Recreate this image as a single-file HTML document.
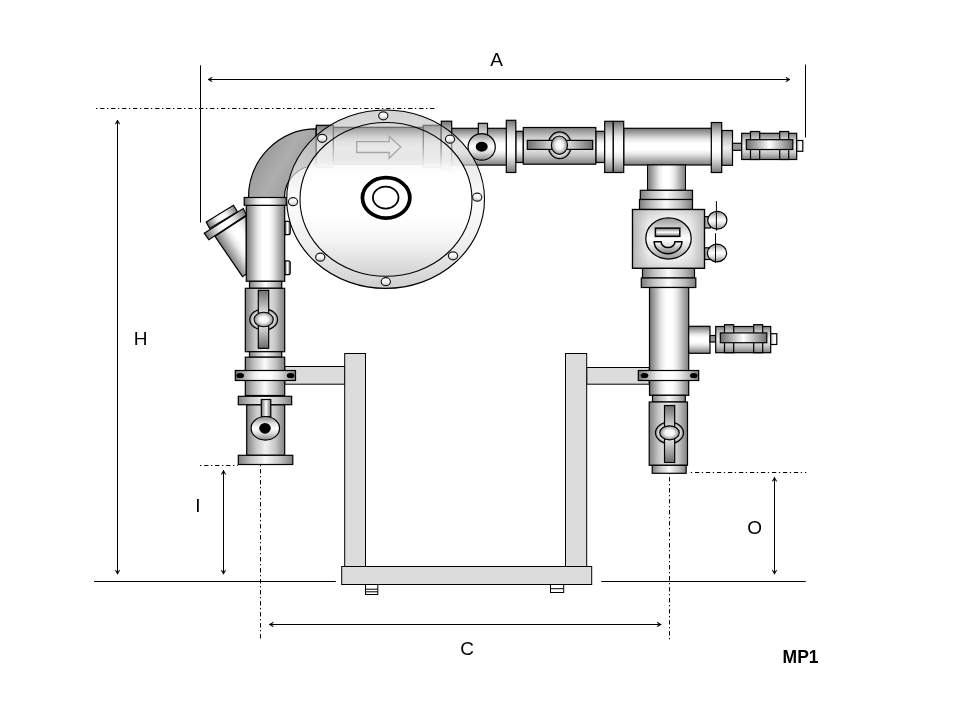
<!DOCTYPE html>
<html><head><meta charset="utf-8"><title>MP1</title>
<style>
html,body{margin:0;padding:0;background:#fff;}
svg{display:block;will-change:transform;}
text{font-family:"Liberation Sans",sans-serif;fill:#000;}
</style></head>
<body>
<svg width="960" height="720" viewBox="0 0 960 720">
<rect x="0" y="0" width="960" height="720" fill="#ffffff"/>

<defs>
<linearGradient id="pv" x1="0" y1="0" x2="0" y2="1"><stop offset="0" stop-color="#727272"/><stop offset="0.12" stop-color="#a2a2a2"/><stop offset="0.3" stop-color="#e8e8e8"/><stop offset="0.42" stop-color="#ffffff"/><stop offset="0.58" stop-color="#ffffff"/><stop offset="0.7" stop-color="#e8e8e8"/><stop offset="0.88" stop-color="#a8a8a8"/><stop offset="1" stop-color="#7c7c7c"/></linearGradient>
<linearGradient id="ph" x1="0" y1="0" x2="1" y2="0"><stop offset="0" stop-color="#727272"/><stop offset="0.12" stop-color="#a2a2a2"/><stop offset="0.3" stop-color="#e8e8e8"/><stop offset="0.42" stop-color="#ffffff"/><stop offset="0.58" stop-color="#ffffff"/><stop offset="0.7" stop-color="#e8e8e8"/><stop offset="0.88" stop-color="#a8a8a8"/><stop offset="1" stop-color="#7c7c7c"/></linearGradient>
<linearGradient id="bv" x1="0" y1="0" x2="0" y2="1"><stop offset="0" stop-color="#727272"/><stop offset="0.12" stop-color="#a2a2a2"/><stop offset="0.3" stop-color="#e8e8e8"/><stop offset="0.42" stop-color="#ffffff"/><stop offset="0.58" stop-color="#ffffff"/><stop offset="0.7" stop-color="#e8e8e8"/><stop offset="0.88" stop-color="#a8a8a8"/><stop offset="1" stop-color="#7c7c7c"/></linearGradient>
<linearGradient id="bh" x1="0" y1="0" x2="1" y2="0"><stop offset="0" stop-color="#727272"/><stop offset="0.12" stop-color="#a2a2a2"/><stop offset="0.3" stop-color="#e8e8e8"/><stop offset="0.42" stop-color="#ffffff"/><stop offset="0.58" stop-color="#ffffff"/><stop offset="0.7" stop-color="#e8e8e8"/><stop offset="0.88" stop-color="#a8a8a8"/><stop offset="1" stop-color="#7c7c7c"/></linearGradient>
<linearGradient id="hh" x1="0" y1="0" x2="1" y2="0"><stop offset="0" stop-color="#6c6c6c"/><stop offset="0.5" stop-color="#ffffff"/><stop offset="1" stop-color="#6c6c6c"/></linearGradient>
<linearGradient id="hv" x1="0" y1="0" x2="0" y2="1"><stop offset="0" stop-color="#6c6c6c"/><stop offset="0.5" stop-color="#ffffff"/><stop offset="1" stop-color="#6c6c6c"/></linearGradient>
<linearGradient id="vbv" x1="0" y1="0" x2="0" y2="1"><stop offset="0" stop-color="#808080"/><stop offset="0.25" stop-color="#c8c8c8"/><stop offset="0.5" stop-color="#f0f0f0"/><stop offset="0.75" stop-color="#c8c8c8"/><stop offset="1" stop-color="#808080"/></linearGradient>
<linearGradient id="vbh" x1="0" y1="0" x2="1" y2="0"><stop offset="0" stop-color="#808080"/><stop offset="0.25" stop-color="#c8c8c8"/><stop offset="0.5" stop-color="#f0f0f0"/><stop offset="0.75" stop-color="#c8c8c8"/><stop offset="1" stop-color="#808080"/></linearGradient>
<linearGradient id="boxv" x1="0" y1="0" x2="0" y2="1"><stop offset="0" stop-color="#a8a8a8" stop-opacity="0.45"/><stop offset="0.3" stop-color="#d0d0d0" stop-opacity="0"/><stop offset="0.7" stop-color="#d0d0d0" stop-opacity="0"/><stop offset="1" stop-color="#a8a8a8" stop-opacity="0.45"/></linearGradient>
<linearGradient id="ys1" gradientUnits="userSpaceOnUse" x1="215" y1="236.3" x2="252" y2="213.5"><stop offset="0" stop-color="#727272"/><stop offset="0.12" stop-color="#a2a2a2"/><stop offset="0.3" stop-color="#e8e8e8"/><stop offset="0.42" stop-color="#ffffff"/><stop offset="0.58" stop-color="#ffffff"/><stop offset="0.7" stop-color="#e8e8e8"/><stop offset="0.88" stop-color="#a8a8a8"/><stop offset="1" stop-color="#7c7c7c"/></linearGradient>
<linearGradient id="ys2" gradientUnits="userSpaceOnUse" x1="206" y1="236" x2="245" y2="212"><stop offset="0" stop-color="#727272"/><stop offset="0.12" stop-color="#a2a2a2"/><stop offset="0.3" stop-color="#e8e8e8"/><stop offset="0.42" stop-color="#ffffff"/><stop offset="0.58" stop-color="#ffffff"/><stop offset="0.7" stop-color="#e8e8e8"/><stop offset="0.88" stop-color="#a8a8a8"/><stop offset="1" stop-color="#7c7c7c"/></linearGradient>
<linearGradient id="ys3" gradientUnits="userSpaceOnUse" x1="208" y1="225" x2="235.5" y2="208.5"><stop offset="0" stop-color="#727272"/><stop offset="0.12" stop-color="#a2a2a2"/><stop offset="0.3" stop-color="#e8e8e8"/><stop offset="0.42" stop-color="#ffffff"/><stop offset="0.58" stop-color="#ffffff"/><stop offset="0.7" stop-color="#e8e8e8"/><stop offset="0.88" stop-color="#a8a8a8"/><stop offset="1" stop-color="#7c7c7c"/></linearGradient>
<linearGradient id="knob" x1="0" y1="0" x2="0" y2="1">
 <stop offset="0" stop-color="#8a8a8a"/><stop offset="0.3" stop-color="#e0e0e0"/><stop offset="0.5" stop-color="#ffffff"/><stop offset="0.7" stop-color="#e0e0e0"/><stop offset="1" stop-color="#8a8a8a"/>
</linearGradient>
<linearGradient id="stem" x1="0" y1="0" x2="0" y2="1">
 <stop offset="0" stop-color="#989898"/><stop offset="1" stop-color="#ececec"/>
</linearGradient>
<linearGradient id="stub" x1="0" y1="0" x2="1" y2="0"><stop offset="0" stop-color="#c8c8c8"/><stop offset="0.6" stop-color="#ffffff"/><stop offset="1" stop-color="#f0f0f0"/></linearGradient>
<linearGradient id="colh" x1="0" y1="0" x2="1" y2="0"><stop offset="0" stop-color="#7e7e7e"/><stop offset="0.22" stop-color="#c0c0c0"/><stop offset="0.5" stop-color="#fafafa"/><stop offset="0.78" stop-color="#c0c0c0"/><stop offset="1" stop-color="#7e7e7e"/></linearGradient>
<linearGradient id="boxg" x1="0" y1="0" x2="1" y2="0">
 <stop offset="0" stop-color="#b4b4b4"/><stop offset="0.22" stop-color="#ececec"/><stop offset="0.45" stop-color="#ffffff"/><stop offset="0.6" stop-color="#ffffff"/><stop offset="0.8" stop-color="#ececec"/><stop offset="1" stop-color="#b8b8b8"/>
</linearGradient>
<linearGradient id="elb" x1="0" y1="0.2" x2="1" y2="0.8">
 <stop offset="0" stop-color="#8c8c8c"/><stop offset="0.5" stop-color="#aeaeae"/><stop offset="1" stop-color="#909090"/>
</linearGradient>
<radialGradient id="ball" cx="0.5" cy="0.5" r="0.5">
 <stop offset="0" stop-color="#ffffff"/><stop offset="0.45" stop-color="#f4f4f4"/><stop offset="1" stop-color="#8c8c8c"/>
</radialGradient>
<radialGradient id="ring" cx="0.5" cy="0.5" r="0.5">
 <stop offset="0" stop-color="#ffffff"/><stop offset="0.7" stop-color="#ffffff"/><stop offset="1" stop-color="#888888"/>
</radialGradient>
<linearGradient id="bolt" x1="0" y1="0" x2="0" y2="1">
 <stop offset="0" stop-color="#ffffff"/><stop offset="0.55" stop-color="#f6f6f6"/><stop offset="1" stop-color="#b8b8b8"/>
</linearGradient>
<linearGradient id="rim" x1="0" y1="0" x2="0" y2="1">
 <stop offset="0" stop-color="#b0b0b0" stop-opacity="0.55"/><stop offset="0.3" stop-color="#e0e0e0" stop-opacity="0.65"/><stop offset="0.5" stop-color="#fcfcfc" stop-opacity="0.75"/><stop offset="0.75" stop-color="#ececec" stop-opacity="0.85"/><stop offset="1" stop-color="#cccccc" stop-opacity="0.95"/>
</linearGradient>
<linearGradient id="disc" x1="0" y1="0" x2="0" y2="1">
 <stop offset="0" stop-color="#b0b0b0" stop-opacity="0.5"/><stop offset="0.15" stop-color="#dcdcdc" stop-opacity="0.7"/><stop offset="0.28" stop-color="#fafafa" stop-opacity="0.95"/><stop offset="0.34" stop-color="#ffffff" stop-opacity="1"/><stop offset="0.62" stop-color="#ffffff" stop-opacity="1"/><stop offset="0.75" stop-color="#f6f6f6" stop-opacity="1"/><stop offset="0.88" stop-color="#e4e4e4" stop-opacity="1"/><stop offset="1" stop-color="#d2d2d2" stop-opacity="1"/>
</linearGradient>
<linearGradient id="smile" x1="0" y1="0" x2="0" y2="1">
 <stop offset="0" stop-color="#ffffff"/><stop offset="1" stop-color="#808080"/>
</linearGradient>
<linearGradient id="circ" x1="0" y1="0" x2="0" y2="1">
 <stop offset="0" stop-color="#989898"/><stop offset="0.3" stop-color="#e0e0e0"/><stop offset="0.5" stop-color="#ffffff"/><stop offset="0.7" stop-color="#e0e0e0"/><stop offset="1" stop-color="#989898"/>
</linearGradient>
</defs>

<line x1="96.00" y1="108.50" x2="437.00" y2="108.50" stroke="#000" stroke-width="1" stroke-dasharray="1.3 2.85 4.3 2.55"/>
<line x1="200.50" y1="65.30" x2="200.50" y2="222.50" stroke="#000" stroke-width="1"/>
<line x1="805.50" y1="64.50" x2="805.50" y2="137.50" stroke="#000" stroke-width="1"/>
<line x1="208.00" y1="79.50" x2="790.00" y2="79.50" stroke="#000" stroke-width="1"/>
<path d="M208.00,79.50 L212.20,77.10 L210.31,79.50 L212.20,81.90 Z" fill="#000" stroke="#000" stroke-width="0.5" stroke-linejoin="miter"/>
<path d="M790.00,79.50 L785.80,81.90 L787.69,79.50 L785.80,77.10 Z" fill="#000" stroke="#000" stroke-width="0.5" stroke-linejoin="miter"/>
<line x1="117.50" y1="120.00" x2="117.50" y2="574.20" stroke="#000" stroke-width="1"/>
<path d="M117.50,120.00 L119.90,124.20 L117.50,122.31 L115.10,124.20 Z" fill="#000" stroke="#000" stroke-width="0.5" stroke-linejoin="miter"/>
<path d="M117.50,574.20 L115.10,570.00 L117.50,571.89 L119.90,570.00 Z" fill="#000" stroke="#000" stroke-width="0.5" stroke-linejoin="miter"/>
<line x1="200.00" y1="465.50" x2="238.00" y2="465.50" stroke="#000" stroke-width="1" stroke-dasharray="1.3 2.85 4.3 2.55"/>
<line x1="223.50" y1="470.30" x2="223.50" y2="574.20" stroke="#000" stroke-width="1"/>
<path d="M223.50,470.30 L225.90,474.50 L223.50,472.61 L221.10,474.50 Z" fill="#000" stroke="#000" stroke-width="0.5" stroke-linejoin="miter"/>
<path d="M223.50,574.20 L221.10,570.00 L223.50,571.89 L225.90,570.00 Z" fill="#000" stroke="#000" stroke-width="0.5" stroke-linejoin="miter"/>
<line x1="690.80" y1="472.50" x2="806.30" y2="472.50" stroke="#000" stroke-width="1" stroke-dasharray="1.3 2.85 4.3 2.55"/>
<line x1="774.50" y1="477.20" x2="774.50" y2="574.20" stroke="#000" stroke-width="1"/>
<path d="M774.50,477.20 L776.90,481.40 L774.50,479.51 L772.10,481.40 Z" fill="#000" stroke="#000" stroke-width="0.5" stroke-linejoin="miter"/>
<path d="M774.50,574.20 L772.10,570.00 L774.50,571.89 L776.90,570.00 Z" fill="#000" stroke="#000" stroke-width="0.5" stroke-linejoin="miter"/>
<line x1="94.00" y1="581.50" x2="335.80" y2="581.50" stroke="#000" stroke-width="1"/>
<line x1="601.20" y1="581.50" x2="805.80" y2="581.50" stroke="#000" stroke-width="1"/>
<line x1="260.50" y1="465.00" x2="260.50" y2="640.00" stroke="#000" stroke-width="1" stroke-dasharray="1.3 2.85 4.3 2.55"/>
<line x1="669.50" y1="473.00" x2="669.50" y2="640.00" stroke="#000" stroke-width="1" stroke-dasharray="1.3 2.85 4.3 2.55"/>
<line x1="269.20" y1="624.50" x2="661.20" y2="624.50" stroke="#000" stroke-width="1"/>
<path d="M269.20,624.50 L273.40,622.10 L271.51,624.50 L273.40,626.90 Z" fill="#000" stroke="#000" stroke-width="0.5" stroke-linejoin="miter"/>
<path d="M661.20,624.50 L657.00,626.90 L658.89,624.50 L657.00,622.10 Z" fill="#000" stroke="#000" stroke-width="0.5" stroke-linejoin="miter"/>
<text x="496.50" y="65.80" font-size="19" font-weight="normal" text-anchor="middle">A</text>
<text x="140.70" y="345.00" font-size="19" font-weight="normal" text-anchor="middle">H</text>
<text x="198.00" y="512.00" font-size="19" font-weight="normal" text-anchor="middle">I</text>
<text x="754.70" y="533.50" font-size="19" font-weight="normal" text-anchor="middle">O</text>
<text x="467.00" y="654.80" font-size="19" font-weight="normal" text-anchor="middle">C</text>
<text x="782.6" y="662.8" font-size="18.7" font-weight="bold" textLength="36" lengthAdjust="spacingAndGlyphs">MP1</text>
<rect x="284.70" y="366.50" width="60.30" height="17.70" fill="#dcdcdc" stroke="#000" stroke-width="1" />
<rect x="586.70" y="367.50" width="62.50" height="16.70" fill="#dcdcdc" stroke="#000" stroke-width="1" />
<rect x="344.70" y="353.50" width="20.80" height="213.00" fill="#dcdcdc" stroke="#000" stroke-width="1" />
<rect x="565.50" y="353.50" width="21.20" height="213.00" fill="#dcdcdc" stroke="#000" stroke-width="1" />
<rect x="341.70" y="566.50" width="250.00" height="18.00" fill="#dcdcdc" stroke="#000" stroke-width="1" />
<rect x="365.50" y="584.50" width="12.30" height="10.00" fill="#fff" stroke="#000" stroke-width="1" />
<line x1="365.50" y1="589.20" x2="377.80" y2="589.20" stroke="#000" stroke-width="1"/>
<line x1="365.50" y1="591.80" x2="377.80" y2="591.80" stroke="#000" stroke-width="1"/>
<rect x="550.50" y="584.50" width="13.20" height="8.00" fill="#fff" stroke="#000" stroke-width="1" />
<line x1="550.50" y1="588.70" x2="563.70" y2="588.70" stroke="#000" stroke-width="1"/>
<path d="M248.5,197.5 A67.8,68.7 0 0 1 316.3,128.8 L316.3,165.5 A32,32 0 0 0 284.4,197.5 Z" fill="url(#elb)" stroke="#000" stroke-width="1.2" />
<path d="M215,236.3 L246.3,216 L246.3,274 L242.5,276.7 Z" fill="url(#ys1)" stroke="#000" stroke-width="1.2" />
<path d="M206.3,222.1 L233.5,205.3 L237.5,211.8 L209.6,228.5 Z" fill="url(#ys3)" stroke="#000" stroke-width="1.2" />
<path d="M204.2,233.2 L243.3,208.5 L246.5,215 L208.8,239.8 Z" fill="url(#ys2)" stroke="#000" stroke-width="1.2" />
<path d="M284.7,221.3 L288,221.3 Q290.2,221.3 290.2,223.3 L290.2,232.7 Q290.2,234.7 288,234.7 L284.7,234.7 Z" fill="url(#hh)" stroke="#000" stroke-width="1.2" />
<path d="M284.7,260.8 L288,260.8 Q290.2,260.8 290.2,262.8 L290.2,272.7 Q290.2,274.7 288,274.7 L284.7,274.7 Z" fill="url(#hh)" stroke="#000" stroke-width="1.2" />
<rect x="246.30" y="205.30" width="38.40" height="76.00" fill="url(#ph)" stroke="#000" stroke-width="1.2" />
<rect x="244.20" y="197.50" width="42.10" height="7.80" fill="url(#bh)" stroke="#000" stroke-width="1.2" />
<rect x="249.50" y="281.30" width="32.20" height="7.00" fill="url(#colh)" stroke="#000" stroke-width="1.2" />
<rect x="245.30" y="288.30" width="39.40" height="63.40" fill="url(#vbh)" stroke="#000" stroke-width="1.2" />
<ellipse cx="263.70" cy="319.50" rx="13.90" ry="10.60" fill="url(#ring)" stroke="#000" stroke-width="1.2" />
<rect x="258.30" y="290.30" width="10.40" height="58.00" fill="url(#hv)" stroke="#000" stroke-width="1.2" />
<ellipse cx="263.70" cy="319.50" rx="9.60" ry="7.25" fill="url(#ball)" stroke="#000" stroke-width="1.2" />
<rect x="249.50" y="351.70" width="32.20" height="5.50" fill="url(#colh)" stroke="#000" stroke-width="1.2" />
<rect x="245.30" y="357.20" width="39.40" height="38.30" fill="url(#colh)" stroke="#000" stroke-width="1.2" />
<rect x="235.30" y="370.50" width="60.20" height="10.00" fill="url(#bh)" stroke="#000" stroke-width="1.2" />
<ellipse cx="240.20" cy="375.50" rx="3.80" ry="2.60" fill="#000" stroke="#000" stroke-width="0" />
<ellipse cx="290.60" cy="375.50" rx="3.80" ry="2.60" fill="#000" stroke="#000" stroke-width="0" />
<rect x="246.70" y="404.70" width="38.00" height="50.60" fill="url(#vbh)" stroke="#000" stroke-width="1.2" />
<rect x="238.30" y="396.30" width="53.40" height="8.40" fill="url(#colh)" stroke="#000" stroke-width="1.2" />
<rect x="261.30" y="399.50" width="9.50" height="17.20" fill="url(#hh)" stroke="#000" stroke-width="1.2" />
<ellipse cx="265.30" cy="428.30" rx="14.25" ry="11.80" fill="url(#knob)" stroke="#000" stroke-width="1.2" />
<ellipse cx="265.00" cy="428.30" rx="5.80" ry="5.40" fill="#000" stroke="#000" stroke-width="0" />
<rect x="238.30" y="455.30" width="54.50" height="9.20" fill="url(#colh)" stroke="#000" stroke-width="1.2" />
<rect x="441.00" y="128.30" width="65.70" height="36.80" fill="url(#pv)" stroke="#000" stroke-width="1.2" />
<rect x="316.30" y="127.30" width="124.70" height="37.10" fill="url(#pv)" stroke="#000" stroke-width="1.2" />
<rect x="316.30" y="125.30" width="17.00" height="42.20" fill="url(#bv)" stroke="#000" stroke-width="1.2" />
<rect x="423.30" y="125.30" width="17.70" height="42.20" fill="url(#bv)" stroke="#000" stroke-width="1.2" />
<rect x="441.30" y="121.20" width="10.40" height="48.80" fill="url(#bv)" stroke="#000" stroke-width="1.2" />
<rect x="478.30" y="123.30" width="9.20" height="12.70" fill="url(#stem)" stroke="#000" stroke-width="1.2" />
<ellipse cx="481.70" cy="146.90" rx="13.60" ry="13.30" fill="url(#knob)" stroke="#000" stroke-width="1.2" />
<ellipse cx="481.70" cy="146.70" rx="6.00" ry="5.00" fill="#000" stroke="#000" stroke-width="0" />
<rect x="515.80" y="131.30" width="7.50" height="31.20" fill="url(#bv)" stroke="#000" stroke-width="1.2" />
<rect x="506.30" y="120.30" width="9.50" height="52.20" fill="url(#bv)" stroke="#000" stroke-width="1.2" />
<rect x="595.80" y="131.30" width="8.90" height="31.20" fill="url(#bv)" stroke="#000" stroke-width="1.2" />
<rect x="523.30" y="127.50" width="72.50" height="36.70" fill="url(#vbv)" stroke="#000" stroke-width="1.2" />
<ellipse cx="559.70" cy="145.30" rx="11.60" ry="13.40" fill="url(#ring)" stroke="#000" stroke-width="1.2" />
<rect x="527.30" y="140.40" width="65.40" height="9.00" fill="url(#hh)" stroke="#000" stroke-width="1.2" />
<ellipse cx="559.40" cy="145.20" rx="8.10" ry="9.20" fill="url(#ball)" stroke="#000" stroke-width="1.2" />
<rect x="623.70" y="128.30" width="88.00" height="36.70" fill="url(#pv)" stroke="#000" stroke-width="1.2" />
<rect x="604.70" y="121.30" width="8.60" height="51.20" fill="url(#bv)" stroke="#000" stroke-width="1.2" />
<rect x="613.30" y="121.30" width="10.40" height="51.20" fill="url(#bv)" stroke="#000" stroke-width="1.2" />
<rect x="721.70" y="130.50" width="10.80" height="34.80" fill="url(#vbv)" stroke="#000" stroke-width="1.2" />
<rect x="711.30" y="122.50" width="10.40" height="50.00" fill="url(#bv)" stroke="#000" stroke-width="1.2" />
<rect x="732.50" y="143.30" width="9.20" height="7.00" fill="#989898" stroke="#000" stroke-width="1.2" />
<rect x="741.70" y="133.30" width="55.00" height="26.20" fill="url(#vbv)" stroke="#000" stroke-width="1.2" />
<rect x="750.50" y="131.50" width="9.20" height="28.00" fill="url(#vbv)" stroke="#000" stroke-width="1.2" />
<rect x="779.70" y="131.50" width="9.00" height="28.00" fill="url(#vbv)" stroke="#000" stroke-width="1.2" />
<rect x="746.30" y="139.70" width="46.50" height="9.80" fill="url(#hh)" stroke="#000" stroke-width="1.2" />
<rect x="796.70" y="140.50" width="6.10" height="10.80" fill="url(#stub)" stroke="#000" stroke-width="1.2" />
<path d="M286.7,199.2 A98.9,89.2 0 1 0 484.5,199.2 A98.9,89.2 0 1 0 286.7,199.2 Z M300,199.4 A86,76.9 0 1 0 472,199.4 A86,76.9 0 1 0 300,199.4 Z" fill="url(#rim)" stroke="none" stroke-width="0" fill-rule="evenodd"/>
<ellipse cx="385.60" cy="199.20" rx="98.90" ry="89.20" fill="none" stroke="#000" stroke-width="1.1" />
<ellipse cx="386.00" cy="199.40" rx="86.00" ry="76.90" fill="url(#disc)" stroke="#000" stroke-width="1.1" />
<ellipse cx="383.30" cy="115.80" rx="4.60" ry="4.00" fill="url(#bolt)" stroke="#1a1a1a" stroke-width="1.2" />
<ellipse cx="450.00" cy="139.20" rx="4.60" ry="4.00" fill="url(#bolt)" stroke="#1a1a1a" stroke-width="1.2" />
<ellipse cx="477.20" cy="197.20" rx="4.60" ry="4.00" fill="url(#bolt)" stroke="#1a1a1a" stroke-width="1.2" />
<ellipse cx="453.00" cy="255.80" rx="4.60" ry="4.00" fill="url(#bolt)" stroke="#1a1a1a" stroke-width="1.2" />
<ellipse cx="385.80" cy="281.70" rx="4.60" ry="4.00" fill="url(#bolt)" stroke="#1a1a1a" stroke-width="1.2" />
<ellipse cx="320.30" cy="257.20" rx="4.60" ry="4.00" fill="url(#bolt)" stroke="#1a1a1a" stroke-width="1.2" />
<ellipse cx="293.00" cy="201.70" rx="4.60" ry="4.00" fill="url(#bolt)" stroke="#1a1a1a" stroke-width="1.2" />
<ellipse cx="322.20" cy="138.30" rx="4.60" ry="4.00" fill="url(#bolt)" stroke="#1a1a1a" stroke-width="1.2" />
<path d="M356.7,141.7 L389.2,141.7 L389.2,136.3 L400.8,147 L389.2,158.3 L389.2,152.5 L356.7,152.5 Z" fill="none" stroke="#a6a6a6" stroke-width="1.3" />
<ellipse cx="386.15" cy="197.85" rx="23.70" ry="20.20" fill="none" stroke="#000" stroke-width="3.75" />
<ellipse cx="385.70" cy="197.60" rx="12.80" ry="11.00" fill="none" stroke="#000" stroke-width="1.8" />
<rect x="647.50" y="165.00" width="38.00" height="25.30" fill="url(#ph)" stroke="#000" stroke-width="1" />
<rect x="640.30" y="190.30" width="52.20" height="9.20" fill="url(#colh)" stroke="#000" stroke-width="1.2" />
<rect x="639.50" y="199.50" width="53.00" height="10.00" fill="url(#colh)" stroke="#000" stroke-width="1.2" />
<rect x="642.50" y="268.30" width="52.00" height="9.70" fill="url(#colh)" stroke="#000" stroke-width="1.2" />
<rect x="641.30" y="278.00" width="54.50" height="9.50" fill="url(#colh)" stroke="#000" stroke-width="1.2" />
<rect x="704.50" y="216.60" width="6.00" height="11.40" fill="#b0b0b0" stroke="#000" stroke-width="1.2" />
<ellipse cx="717.30" cy="220.30" rx="9.60" ry="8.90" fill="url(#knob)" stroke="#000" stroke-width="1.2" />
<line x1="716.40" y1="201.10" x2="716.40" y2="230.70" stroke="#000" stroke-width="1"/>
<rect x="704.50" y="247.80" width="6.00" height="11.70" fill="#b0b0b0" stroke="#000" stroke-width="1.2" />
<ellipse cx="717.00" cy="253.00" rx="9.60" ry="8.90" fill="url(#knob)" stroke="#000" stroke-width="1.2" />
<line x1="715.50" y1="233.20" x2="715.50" y2="262.80" stroke="#000" stroke-width="1"/>
<rect x="632.50" y="209.50" width="72.00" height="58.80" fill="url(#boxg)" stroke="#000" stroke-width="1.2" />
<rect x="632.50" y="209.50" width="72.00" height="58.80" fill="url(#boxv)" stroke="#000" stroke-width="1.2" />
<ellipse cx="668.50" cy="238.40" rx="22.70" ry="20.60" fill="url(#circ)" stroke="#000" stroke-width="1.25" />
<rect x="655.40" y="228.10" width="24.40" height="8.30" fill="url(#hv)" stroke="#000" stroke-width="1.5" />
<path d="M654.2,241.8 L661,241.8 A7,5.7 0 0 0 675,241.8 L681.9,241.8 A13.85,12 0 0 1 654.2,241.8 Z" fill="url(#smile)" stroke="#000" stroke-width="1.5" />
<rect x="649.50" y="287.50" width="39.20" height="107.80" fill="url(#ph)" stroke="#000" stroke-width="1.2" />
<rect x="688.70" y="326.30" width="21.30" height="27.00" fill="url(#pv)" stroke="#000" stroke-width="1.2" />
<rect x="710.00" y="335.50" width="5.50" height="6.50" fill="#989898" stroke="#000" stroke-width="1.2" />
<rect x="715.70" y="326.50" width="55.00" height="26.20" fill="url(#vbv)" stroke="#000" stroke-width="1.2" />
<rect x="724.50" y="324.70" width="9.20" height="28.00" fill="url(#vbv)" stroke="#000" stroke-width="1.2" />
<rect x="753.70" y="324.70" width="9.00" height="28.00" fill="url(#vbv)" stroke="#000" stroke-width="1.2" />
<rect x="720.30" y="332.90" width="46.50" height="9.80" fill="url(#hh)" stroke="#000" stroke-width="1.2" />
<rect x="770.70" y="333.70" width="6.10" height="10.80" fill="url(#stub)" stroke="#000" stroke-width="1.2" />
<rect x="638.30" y="370.50" width="60.40" height="10.00" fill="url(#bh)" stroke="#000" stroke-width="1.2" />
<ellipse cx="644.50" cy="375.50" rx="3.80" ry="2.60" fill="#000" stroke="#000" stroke-width="0" />
<ellipse cx="693.80" cy="375.50" rx="3.80" ry="2.60" fill="#000" stroke="#000" stroke-width="0" />
<rect x="652.50" y="395.30" width="32.80" height="6.70" fill="url(#colh)" stroke="#000" stroke-width="1.2" />
<rect x="649.20" y="402.00" width="38.30" height="63.30" fill="url(#vbh)" stroke="#000" stroke-width="1.2" />
<ellipse cx="669.50" cy="432.80" rx="14.00" ry="10.80" fill="url(#ring)" stroke="#000" stroke-width="1.2" />
<rect x="664.50" y="405.50" width="10.20" height="57.00" fill="url(#hv)" stroke="#000" stroke-width="1.2" />
<ellipse cx="669.50" cy="432.80" rx="9.80" ry="7.00" fill="url(#ball)" stroke="#000" stroke-width="1.2" />
<rect x="652.20" y="465.30" width="34.00" height="8.00" fill="url(#colh)" stroke="#000" stroke-width="1.2" />
</svg>
</body></html>
